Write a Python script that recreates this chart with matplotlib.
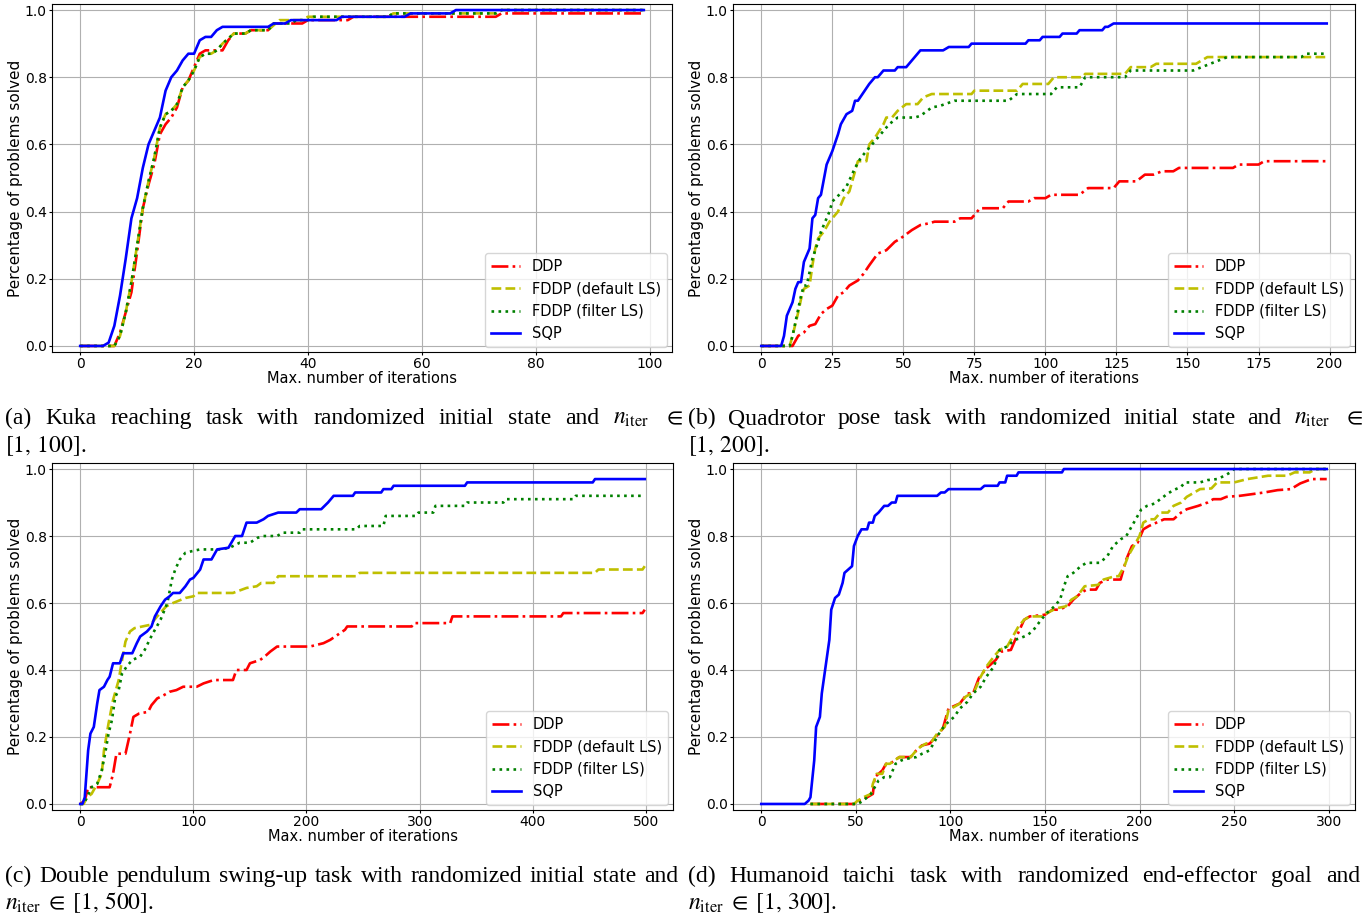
import matplotlib
matplotlib.use("Agg")
import matplotlib.pyplot as plt

plt.rcParams["mathtext.fontset"] = "stix"

# ---- (a) Kuka reaching, n_iter in [1, 100]
kuka_ddp_x = [0, 6, 7, 8, 9, 10, 11, 12, 13, 14, 15, 16, 17, 18, 19, 20, 21, 22, 24, 25, 26, 27, 29, 30, 33, 34, 36, 39, 40, 47, 48, 73, 74, 99]
kuka_ddp_y = [0, 0, 0.04, 0.1, 0.16, 0.28, 0.41, 0.48, 0.54, 0.63, 0.66, 0.68, 0.71, 0.77, 0.79, 0.83, 0.87, 0.88, 0.88, 0.88, 0.91, 0.93, 0.93, 0.94, 0.94, 0.96, 0.96, 0.96, 0.97, 0.97, 0.98, 0.98, 0.99, 0.99]
kuka_fddp_x = [0, 6, 7, 8, 9, 10, 11, 12, 13, 14, 15, 16, 17, 18, 19, 20, 21, 22, 23, 24, 25, 27, 29, 30, 33, 35, 39, 40, 54, 55, 73, 74, 99]
kuka_fddp_y = [0, 0, 0.03, 0.1, 0.19, 0.3, 0.41, 0.49, 0.56, 0.65, 0.69, 0.7, 0.72, 0.77, 0.79, 0.82, 0.86, 0.87, 0.87, 0.88, 0.9, 0.93, 0.93, 0.94, 0.94, 0.97, 0.97, 0.98, 0.98, 0.99, 0.99, 1.0, 1.0]
kuka_filt_x = [0, 6, 7, 8, 9, 10, 11, 12, 13, 14, 15, 16, 17, 18, 19, 20, 21, 22, 23, 24, 25, 27, 29, 30, 33, 34, 37, 38, 40, 41, 54, 55, 73, 74, 99]
kuka_filt_y = [0, 0, 0.03, 0.1, 0.19, 0.3, 0.41, 0.49, 0.56, 0.65, 0.69, 0.7, 0.72, 0.77, 0.79, 0.82, 0.86, 0.87, 0.87, 0.88, 0.9, 0.93, 0.93, 0.94, 0.94, 0.96, 0.96, 0.97, 0.97, 0.98, 0.98, 0.99, 0.99, 1.0, 1.0]
kuka_sqp_x = [0, 4, 5, 6, 7, 8, 9, 10, 11, 12, 13, 14, 15, 16, 17, 18, 19, 20, 21, 22, 23, 24, 25, 33, 34, 36, 37, 45, 46, 57, 58, 65, 66, 99]
kuka_sqp_y = [0, 0, 0.01, 0.06, 0.15, 0.26, 0.38, 0.44, 0.53, 0.6, 0.64, 0.68, 0.76, 0.8, 0.82, 0.85, 0.87, 0.87, 0.91, 0.92, 0.92, 0.94, 0.95, 0.95, 0.96, 0.96, 0.97, 0.97, 0.98, 0.98, 0.99, 0.99, 1.0, 1.0]

# ---- (b) Quadrotor pose, n_iter in [1, 200]
quad_ddp_x = [0, 11, 13, 15, 17, 19, 21, 23, 25, 27, 29, 31, 34, 36, 38, 41, 44, 47, 49, 53, 56, 59, 61, 68, 70, 74, 77, 85, 87, 94, 96, 100, 102, 112, 115, 124, 126, 132, 135, 138, 141, 145, 147, 166, 168, 175, 177, 199]
quad_ddp_y = [0, 0, 0.03, 0.04, 0.06, 0.065, 0.095, 0.11, 0.12, 0.15, 0.16, 0.18, 0.195, 0.215, 0.24, 0.275, 0.285, 0.31, 0.32, 0.345, 0.36, 0.365, 0.37, 0.37, 0.38, 0.38, 0.41, 0.41, 0.43, 0.43, 0.44, 0.44, 0.45, 0.45, 0.47, 0.47, 0.49, 0.49, 0.51, 0.51, 0.52, 0.52, 0.53, 0.53, 0.54, 0.54, 0.55, 0.55]
quad_fddp_x = [0, 10, 11, 13, 14, 15, 17, 18, 19, 20, 22, 24, 27, 29, 31, 33, 34, 37, 38, 40, 43, 44, 46, 48, 51, 55, 57, 60, 74, 75, 90, 92, 101, 103, 113, 114, 128, 130, 137, 139, 153, 157, 199]
quad_fddp_y = [0, 0, 0.03, 0.10, 0.14, 0.17, 0.18, 0.24, 0.29, 0.32, 0.34, 0.37, 0.40, 0.44, 0.46, 0.52, 0.55, 0.55, 0.60, 0.62, 0.66, 0.68, 0.68, 0.70, 0.72, 0.72, 0.74, 0.75, 0.75, 0.76, 0.76, 0.78, 0.78, 0.80, 0.80, 0.81, 0.81, 0.83, 0.83, 0.84, 0.84, 0.86, 0.86]
quad_filt_x = [0, 10, 11, 13, 14, 15, 16, 18, 20, 21, 24, 25, 28, 30, 33, 35, 37, 39, 41, 43, 45, 48, 54, 56, 60, 63, 68, 87, 90, 102, 104, 112, 114, 128, 130, 152, 155, 158, 164, 190, 192, 199]
quad_filt_y = [0, 0, 0.03, 0.11, 0.15, 0.18, 0.18, 0.26, 0.31, 0.34, 0.40, 0.43, 0.455, 0.475, 0.53, 0.56, 0.58, 0.60, 0.62, 0.64, 0.66, 0.68, 0.68, 0.685, 0.71, 0.715, 0.73, 0.73, 0.75, 0.75, 0.77, 0.77, 0.80, 0.80, 0.82, 0.82, 0.83, 0.84, 0.86, 0.86, 0.87, 0.87]
quad_sqp_x = [0, 7, 8, 9, 10, 11, 12, 13, 14, 15, 17, 18, 19, 20, 21, 23, 25, 27, 28, 30, 32, 33, 34, 38, 40, 41, 43, 47, 48, 51, 56, 64, 66, 73, 74, 93, 94, 98, 99, 105, 106, 111, 112, 120, 121, 122, 124, 199]
quad_sqp_y = [0, 0, 0.03, 0.09, 0.11, 0.13, 0.17, 0.19, 0.19, 0.25, 0.29, 0.38, 0.39, 0.44, 0.45, 0.54, 0.58, 0.63, 0.66, 0.69, 0.70, 0.73, 0.73, 0.78, 0.80, 0.80, 0.82, 0.82, 0.83, 0.83, 0.88, 0.88, 0.89, 0.89, 0.90, 0.90, 0.91, 0.91, 0.92, 0.92, 0.93, 0.93, 0.94, 0.94, 0.95, 0.95, 0.96, 0.96]

# ---- (c) Double pendulum swing-up, n_iter in [1, 500]
pend_ddp_x = [0, 4, 7, 13, 26, 29, 32, 40, 44, 47, 52, 60, 63, 68, 74, 79, 85, 91, 103, 109, 118, 135, 138, 147, 150, 159, 163, 168, 174, 203, 215, 221, 234, 236, 293, 295, 327, 329, 425, 427, 497, 499]
pend_ddp_y = [0, 0.01, 0.05, 0.05, 0.05, 0.09, 0.15, 0.15, 0.21, 0.26, 0.27, 0.275, 0.295, 0.315, 0.325, 0.335, 0.34, 0.35, 0.35, 0.36, 0.37, 0.37, 0.40, 0.40, 0.42, 0.43, 0.44, 0.455, 0.47, 0.47, 0.48, 0.49, 0.52, 0.53, 0.53, 0.54, 0.54, 0.56, 0.56, 0.57, 0.57, 0.58]
pend_fddp_x = [0, 3, 6, 10, 15, 19, 21, 25, 29, 34, 37, 40, 44, 48, 62, 68, 72, 76, 82, 93, 100, 103, 135, 147, 156, 160, 171, 175, 244, 247, 455, 458, 497, 499]
pend_fddp_y = [0, 0, 0.02, 0.03, 0.06, 0.09, 0.16, 0.24, 0.31, 0.37, 0.43, 0.485, 0.515, 0.525, 0.535, 0.56, 0.575, 0.59, 0.60, 0.615, 0.62, 0.63, 0.63, 0.645, 0.65, 0.66, 0.66, 0.68, 0.68, 0.69, 0.69, 0.70, 0.70, 0.71]
pend_filt_x = [0, 3, 6, 10, 15, 19, 22, 25, 28, 31, 34, 37, 41, 46, 53, 57, 62, 66, 71, 77, 81, 84, 88, 93, 99, 106, 124, 132, 141, 150, 157, 162, 174, 179, 194, 196, 244, 247, 268, 270, 297, 299, 312, 314, 340, 342, 374, 376, 436, 438, 499]
pend_filt_y = [0, 0, 0.02, 0.05, 0.06, 0.10, 0.15, 0.21, 0.25, 0.32, 0.34, 0.39, 0.41, 0.43, 0.44, 0.46, 0.495, 0.52, 0.55, 0.60, 0.67, 0.70, 0.73, 0.75, 0.755, 0.76, 0.76, 0.765, 0.78, 0.78, 0.795, 0.80, 0.80, 0.81, 0.81, 0.82, 0.82, 0.83, 0.83, 0.86, 0.86, 0.87, 0.87, 0.89, 0.89, 0.90, 0.90, 0.91, 0.91, 0.92, 0.92]
pend_sqp_x = [0, 2, 4, 7, 9, 12, 15, 17, 21, 24, 26, 29, 35, 38, 46, 50, 53, 59, 63, 66, 71, 75, 79, 82, 88, 93, 97, 100, 106, 109, 116, 121, 131, 137, 143, 147, 156, 162, 166, 175, 191, 194, 213, 216, 219, 224, 241, 243, 266, 268, 275, 277, 340, 342, 453, 455, 499]
pend_sqp_y = [0, 0, 0.02, 0.16, 0.21, 0.23, 0.30, 0.34, 0.35, 0.37, 0.38, 0.42, 0.42, 0.45, 0.45, 0.48, 0.50, 0.515, 0.53, 0.56, 0.59, 0.61, 0.62, 0.63, 0.63, 0.65, 0.67, 0.675, 0.70, 0.73, 0.73, 0.76, 0.765, 0.80, 0.80, 0.84, 0.84, 0.85, 0.86, 0.87, 0.87, 0.88, 0.88, 0.89, 0.90, 0.92, 0.92, 0.93, 0.93, 0.94, 0.94, 0.95, 0.95, 0.96, 0.96, 0.97, 0.97]

# ---- (d) Humanoid taichi, n_iter in [1, 300]
taichi_ddp_x = [26, 50, 52, 56, 59, 60, 62, 64, 66, 68, 73, 79, 82, 85, 89, 93, 96, 99, 103, 105, 109, 112, 115, 119, 124, 127, 132, 135, 139, 142, 150, 154, 157, 162, 165, 169, 172, 177, 179, 183, 190, 193, 196, 199, 202, 205, 209, 213, 218, 222, 225, 231, 236, 239, 243, 246, 253, 266, 273, 280, 285, 291, 299]
taichi_ddp_y = [0, 0, 0.01, 0.02, 0.03, 0.08, 0.09, 0.10, 0.12, 0.12, 0.14, 0.14, 0.16, 0.175, 0.18, 0.205, 0.225, 0.285, 0.295, 0.30, 0.33, 0.33, 0.375, 0.405, 0.43, 0.455, 0.46, 0.50, 0.55, 0.56, 0.565, 0.58, 0.58, 0.59, 0.61, 0.63, 0.64, 0.64, 0.66, 0.67, 0.67, 0.73, 0.77, 0.78, 0.82, 0.83, 0.84, 0.85, 0.85, 0.87, 0.88, 0.89, 0.90, 0.91, 0.91, 0.917, 0.92, 0.93, 0.937, 0.94, 0.957, 0.97, 0.97]
taichi_fddp_x = [26, 49, 51, 54, 58, 59, 61, 64, 66, 68, 73, 79, 82, 84, 87, 90, 93, 97, 99, 102, 105, 108, 111, 113, 116, 119, 123, 126, 130, 134, 136, 139, 142, 149, 151, 156, 161, 164, 167, 171, 178, 181, 187, 189, 192, 194, 197, 200, 202, 205, 208, 211, 215, 218, 222, 225, 229, 232, 238, 241, 250, 257, 268, 278, 282, 290, 293, 299]
taichi_fddp_y = [0, 0, 0.01, 0.02, 0.03, 0.06, 0.09, 0.09, 0.12, 0.12, 0.14, 0.14, 0.16, 0.17, 0.18, 0.185, 0.21, 0.23, 0.28, 0.29, 0.30, 0.32, 0.33, 0.34, 0.38, 0.41, 0.44, 0.46, 0.47, 0.51, 0.53, 0.55, 0.56, 0.56, 0.57, 0.584, 0.59, 0.61, 0.62, 0.65, 0.654, 0.67, 0.68, 0.68, 0.71, 0.74, 0.77, 0.80, 0.84, 0.85, 0.85, 0.87, 0.87, 0.89, 0.90, 0.917, 0.93, 0.94, 0.942, 0.96, 0.96, 0.97, 0.98, 0.98, 0.99, 0.99, 1.0, 1.0]
taichi_filt_x = [26, 51, 54, 58, 60, 62, 65, 68, 71, 74, 77, 82, 85, 89, 91, 95, 98, 102, 105, 109, 112, 116, 119, 123, 126, 130, 134, 137, 141, 144, 148, 151, 155, 158, 160, 162, 165, 169, 172, 179, 183, 186, 190, 193, 197, 201, 204, 208, 211, 215, 218, 222, 224, 232, 236, 241, 245, 248, 250, 299]
taichi_filt_y = [0, 0, 0.01, 0.03, 0.05, 0.07, 0.08, 0.08, 0.12, 0.13, 0.135, 0.14, 0.15, 0.16, 0.18, 0.22, 0.24, 0.26, 0.285, 0.305, 0.33, 0.35, 0.38, 0.41, 0.46, 0.47, 0.49, 0.495, 0.505, 0.52, 0.55, 0.57, 0.59, 0.61, 0.649, 0.68, 0.69, 0.71, 0.72, 0.72, 0.74, 0.77, 0.79, 0.80, 0.84, 0.88, 0.89, 0.897, 0.91, 0.927, 0.937, 0.947, 0.96, 0.96, 0.967, 0.97, 0.98, 0.99, 1.0, 1.0]
taichi_sqp_x = [0, 23, 25, 26, 28, 29, 31, 32, 34, 36, 37, 39, 41, 43, 44, 46, 48, 49, 51, 53, 56, 57, 59, 60, 62, 65, 67, 69, 71, 72, 93, 95, 97, 99, 116, 118, 125, 126, 129, 130, 135, 136, 159, 160, 299]
taichi_sqp_y = [0, 0, 0.01, 0.02, 0.13, 0.23, 0.26, 0.33, 0.41, 0.49, 0.58, 0.615, 0.625, 0.66, 0.69, 0.70, 0.71, 0.77, 0.80, 0.82, 0.82, 0.84, 0.84, 0.86, 0.87, 0.89, 0.89, 0.90, 0.90, 0.92, 0.92, 0.93, 0.93, 0.94, 0.94, 0.95, 0.95, 0.96, 0.96, 0.98, 0.98, 0.99, 0.99, 1.0, 1.0]

labels = ["DDP", "FDDP (default LS)", "FDDP (filter LS)", "SQP"]
styles = [("r", "-."), ("y", "--"), ("g", ":"), ("b", "-")]
xticks = {"a": range(0, 101, 20), "b": range(0, 201, 25), "c": range(0, 501, 100), "d": range(0, 301, 50)}

W, H = 1368, 918
fig = plt.figure(figsize=(W / 100, H / 100), dpi=100)


def add_axes(left, top, right, bottom):
    return fig.add_axes([left / W, 1 - bottom / H, (right - left) / W, (bottom - top) / H])


def draw_panel(ax, curves, ticks):
    for (x, y), lab, (c, ls) in zip(curves, labels, styles):
        ax.plot(x, y, color=c, linestyle=ls, linewidth=1.9, label=lab)
    ax.set_xticks(list(ticks))
    ax.set_ylim(-0.018, 1.018)
    ax.set_yticks([0, 0.2, 0.4, 0.6, 0.8, 1.0])
    ax.tick_params(labelsize=10, length=2.5, pad=1.2)
    ax.set_xlabel("Max. number of iterations", fontsize=10.5, labelpad=0)
    ax.set_ylabel("Percentage of problems solved", fontsize=11, labelpad=1)
    ax.grid(True)
    ax.legend(loc="lower right", fontsize=10.5, borderaxespad=0.35)


panels = [
    ((52, 4, 672, 352), [(kuka_ddp_x, kuka_ddp_y), (kuka_fddp_x, kuka_fddp_y), (kuka_filt_x, kuka_filt_y), (kuka_sqp_x, kuka_sqp_y)], xticks["a"]),
    ((733, 4, 1355, 352), [(quad_ddp_x, quad_ddp_y), (quad_fddp_x, quad_fddp_y), (quad_filt_x, quad_filt_y), (quad_sqp_x, quad_sqp_y)], xticks["b"]),
    ((52, 463, 673, 810), [(pend_ddp_x, pend_ddp_y), (pend_fddp_x, pend_fddp_y), (pend_filt_x, pend_filt_y), (pend_sqp_x, pend_sqp_y)], xticks["c"]),
    ((733, 463, 1355, 810), [(taichi_ddp_x, taichi_ddp_y), (taichi_fddp_x, taichi_fddp_y), (taichi_filt_x, taichi_filt_y), (taichi_sqp_x, taichi_sqp_y)], xticks["d"]),
]
for box, curves, ticks in panels:
    draw_panel(add_axes(*box), curves, ticks)

# ---- captions (justified first lines, like the LaTeX subcaptions)
renderer = fig.canvas.get_renderer()
CAP = dict(fontsize=17, family="Liberation Serif", va="baseline", color="black")


def justify(words, x0, x1, y):
    texts = [fig.text(x0 / W, 1 - y / H, w, **CAP) for w in words]
    widths = [t.get_window_extent(renderer).width for t in texts]
    gap = (x1 - x0 - sum(widths)) / (len(words) - 1)
    x = x0
    for t, w in zip(texts, widths):
        t.set_x(x / W)
        x += w + gap


def plain(text, x0, y):
    fig.text(x0 / W, 1 - y / H, text, **CAP)


niter = r"$n_{\mathrm{iter}}$"
justify(["(a)", "Kuka", "reaching", "task", "with", "randomized", "initial", "state", "and", niter, r"$\in$"], 5, 683, 424)
plain(r"$[1,\, 100]$.", 5, 452)
justify(["(b)", "Quadrotor", "pose", "task", "with", "randomized", "initial", "state", "and", niter, r"$\in$"], 688, 1363, 424)
plain(r"$[1,\, 200]$.", 688, 452)
justify(["(c)", "Double", "pendulum", "swing-up", "task", "with", "randomized", "initial", "state", "and"], 5, 678, 882)
plain(r"$n_{\mathrm{iter}} \;\in\; [1,\, 500]$.", 5, 909)
justify(["(d)", "Humanoid", "taichi", "task", "with", "randomized", "end-effector", "goal", "and"], 688, 1360, 882)
plain(r"$n_{\mathrm{iter}} \;\in\; [1,\, 300]$.", 688, 909)

fig.savefig("out.png", dpi=100)
